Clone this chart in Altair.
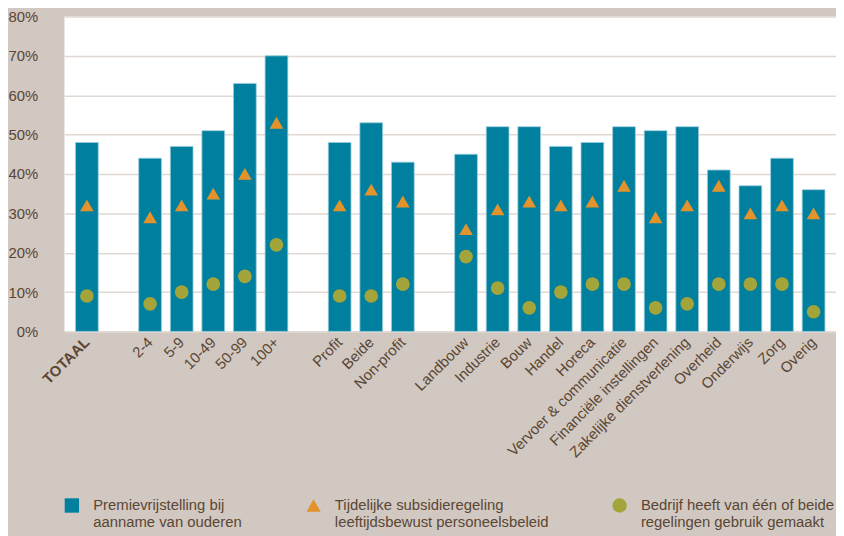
import altair as alt
import pandas as pd

categories = ["TOTAAL", " ", "2-4", "5-9", "10-49", "50-99", "100+", "  ",
              "Profit", "Beide", "Non-profit", "   ",
              "Landbouw", "Industrie", "Bouw", "Handel", "Horeca",
              "Vervoer & communicatie", "Financiële instellingen",
              "Zakelijke dienstverlening", "Overheid", "Onderwijs", "Zorg", "Overig"]

labels_series = [
    "Premievrijstelling bij|aanname van ouderen",
    "Tijdelijke subsidieregeling|leeftijdsbewust personeelsbeleid",
    "Bedrijf heeft van één of beide|regelingen gebruik gemaakt",
]

premie = [48, None, 44, 47, 51, 63, 70, None, 48, 53, 43, None,
          45, 52, 52, 47, 48, 52, 51, 52, 41, 37, 44, 36]
tijdelijk = [32, None, 29, 32, 35, 40, 53, None, 32, 36, 33, None,
             26, 31, 33, 32, 33, 37, 29, 32, 37, 30, 32, 30]
gebruik = [9, None, 7, 10, 12, 14, 22, None, 9, 9, 12, None,
           19, 11, 6, 10, 12, 12, 6, 7, 12, 12, 12, 5]

colors = ["#007f9e", "#e3932c", "#a3a53b"]
shapes = ["square", "triangle-up", "circle"]

rows = []
for i, c in enumerate(categories):
    for s, vals in zip(labels_series, [premie, tijdelijk, gebruik]):
        if vals[i] is not None:
            rows.append({"cat": c, "serie": s, "val": vals[i]})
df = pd.DataFrame(rows)

txt = "#5a4634"
font = "Liberation Sans"

legend = alt.Legend(
    title=None, orient="none", legendX=0, legendY=486, direction="horizontal",
    columns=3, columnPadding=64, symbolSize=210, symbolStrokeWidth=0,
    labelFontSize=15, labelFont=font, labelColor=txt, labelLimit=500,
    labelOffset=14, labelBaseline="middle",
    labelExpr="split(datum.label, '|')", padding=0,
)

color = alt.Color("serie:N", scale=alt.Scale(domain=labels_series, range=colors), legend=legend)
shape = alt.Shape("serie:N", scale=alt.Scale(domain=labels_series, range=shapes), legend=legend)

x = alt.X("cat:N", sort=categories,
          scale=alt.Scale(domain=categories, paddingInner=0.28, paddingOuter=0.35),
          axis=alt.Axis(title=None, labelAngle=-45, labelAlign="right", labelBaseline="middle",
                        labelPadding=8, ticks=False, domain=False, grid=False,
                        labelFontSize=15, labelFont=font, labelColor=txt,
                        labelFontWeight={"condition": {"test": "datum.value == 'TOTAAL'", "value": "bold"}, "value": "normal"}))
y = alt.Y("val:Q", scale=alt.Scale(domain=[0, 80]),
          axis=alt.Axis(title=None, values=[0, 10, 20, 30, 40, 50, 60, 70, 80],
                        labelExpr="datum.value + '%'", ticks=False, domain=False,
                        labelPadding=27, labelFontSize=15, labelFont=font, labelColor=txt,
                        gridColor="#e0d9d3", gridWidth=1.5))

bars = alt.Chart(df).transform_filter(
    alt.datum.serie == labels_series[0]
).mark_bar(stroke="#9ccfdd", strokeWidth=0.8).encode(x=x, y=y, color=color)

points = alt.Chart(df).transform_filter(
    alt.datum.serie != labels_series[0]
).mark_point(filled=True, opacity=1, size=190).encode(x=x, y=y, color=color, shape=shape)

chart = alt.layer(bars, points).properties(
    width=779, height=318,
    autosize=alt.AutoSizeParams(type="none"),
    padding={"left": 57, "top": 6, "right": 0, "bottom": 204},
    background="#d1c8c1",
).configure_view(fill="white", stroke=None)

chart.save("out.html", embed_options={"renderer": "svg", "actions": False})
